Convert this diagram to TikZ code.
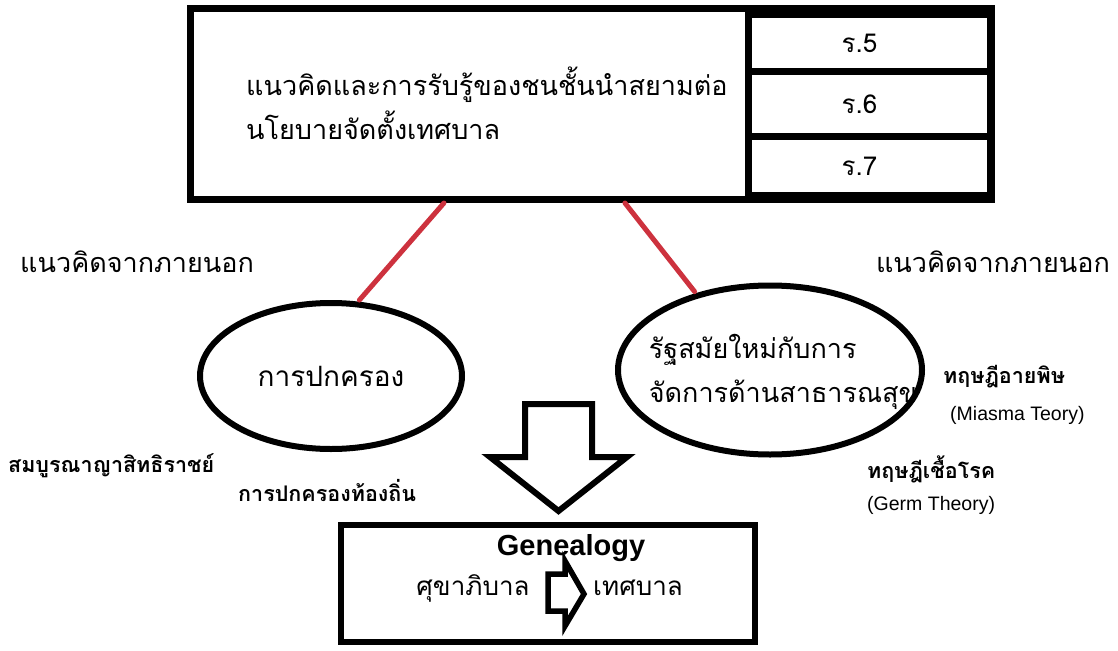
\documentclass[tikz,border=0pt]{standalone}
\usepackage{fontspec}
\setmainfont{Liberation Sans}
\newfontfamily\thaifont[Script=Thai]{Loma}
\usetikzlibrary{positioning, shapes.geometric, calc}
\definecolor{linkred}{RGB}{205,50,62}

\begin{document}
\begin{tikzpicture}[x=1pt, y=-1pt,
        every node/.style={inner sep=0pt},
        frame/.style={draw, line width=7pt},
        cell/.style={fill=white, minimum width=235pt, font={\thaifont\fontsize{26}{30}\selectfont}},
        bubble/.style={draw, ellipse, line width=6pt},
        link/.style={draw=linkred, line width=5pt, line cap=round, shorten >=2pt},
        thai/.style={font={\thaifont\fontsize{#1}{44}\selectfont}, align=left},
        thai/.default=27,
        note/.style={font={\thaifont\bfseries\fontsize{#1}{24}\selectfont}},
        note/.default=21.5,
        eng/.style={font={\fontsize{19.5}{22}\selectfont}},
        hollow/.style={draw, fill=white, line join=miter}
        ]

        \useasboundingbox (0,0) rectangle (1118,650);

        % top box with the three reigns
        \node[frame, minimum width=801pt, minimum height=191pt] (top) at (591,104) {};
        \fill (745,5) rectangle (995,203);
        \node[cell, minimum height=50pt] (r5) at (869.5,43) {\hspace{-20pt}ร.5};
        \node[cell, minimum height=58pt] (r6) at (869.5,104) {\hspace{-20pt}ร.6};
        \node[cell, minimum height=52pt] (r7) at (869.5,166) {\hspace{-20pt}ร.7};
        \node[thai, anchor=west] (policy) at (246,103) {แนวคิดและการรับรู้ของชนชั้นนำสยามต่อ\\นโยบายจัดตั้งเทศบาล};

        % outside ideas
        \node[thai, anchor=west] (outleft) at (20,262) {แนวคิดจากภายนอก};
        \node[thai, anchor=east] (outright) at (1110,262) {แนวคิดจากภายนอก};

        % the two ellipses
        \node[bubble, thai=28, minimum width=262pt, minimum height=146pt] (gov) at (331,376) {การปกครอง};
        \node[bubble, minimum width=304pt, minimum height=169pt] (state) at (770,370) {};
        \node[thai] (statetext) at (783,372) {รัฐสมัยใหม่กับการ\\จัดการด้านสาธารณสุข};

        \draw[link] ($(top.south west)!0.318!(top.south east)$) -- (gov.70);
        \draw[link] ($(top.south west)!0.542!(top.south east)$) -- (state.134);

        % side notes
        \node[note, anchor=west] (absolute) at (8,466) {สมบูรณาญาสิทธิราชย์};
        \node[note, anchor=west] (local) at (238,490) {การปกครองท้องถิ่น};
        \node[note, anchor=west] (miasma) at (943,377) {ทฤษฎีอายพิษ};
        \node[eng, anchor=west] (miasmaen) at (950,415) {(Miasma Teory)};
        \node[note, anchor=west] (germ) at (867,469) {ทฤษฎีเชื้อโรค};
        \node[eng, anchor=west] (germen) at (867,505) {(Germ Theory)};

        % big arrow down
        \draw[hollow, line width=6pt] (525,404) -- (592,404) -- (592,457) -- (627,457) -- (558.5,511) -- (490,457) -- (525,457) -- cycle;

        % genealogy box
        \node[draw, line width=6pt, minimum width=414pt, minimum height=117pt] (gene) at (548,583.5) {};
        \node[font={\bfseries\fontsize{29}{34}\selectfont}] (genetitle) at (571,548) {Genealogy};
        \node[thai=26] (sukha) at (473,588) {ศุขาภิบาล};
        \node[thai=26] (tesa) at (638,588) {เทศบาล};
        \draw[hollow, line width=5.5pt] (548,574) -- (565,574) -- (565,561) -- (584,594) -- (565,626) -- (565,611) -- (548,611) -- cycle;

    \end{tikzpicture}
\end{document}
